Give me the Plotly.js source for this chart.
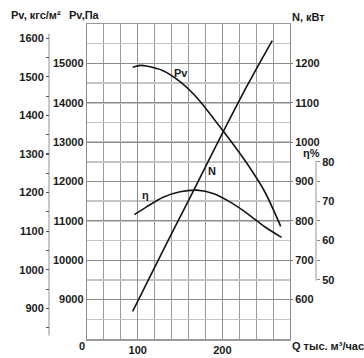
<!DOCTYPE html>
<html><head><meta charset="utf-8">
<script src="https://cdn.plot.ly/plotly-3.0.1.min.js"></script>
<style>html,body{margin:0;padding:0;background:#fff}#chart{width:364px;height:358px}</style>
</head><body><div id="chart"></div>
<script>
// Data
var qPv  = [94, 103, 110, 130, 150, 170, 190, 210, 230, 250, 269];
var pvPa = [14900, 14948, 14935, 14815, 14535, 14125, 13590, 13028, 12430, 11746, 10860];
var qN   = [94, 130, 166, 200, 230, 259];
var nKw  = [570, 725, 877, 1022, 1146, 1258];
var qEta = [96, 110, 130, 150, 170, 190, 210, 230, 250, 270];
var eta  = [66.6, 68.5, 71.0, 72.4, 72.8, 71.9, 69.7, 66.8, 63.5, 60.8];

var paTicks  = [9000, 10000, 11000, 12000, 13000, 14000, 15000];
var paLabels = ['9000', '10000', '11000', '12000', '13000', '14000', '15000'];
var kgfTicks = [900, 1000, 1100, 1200, 1300, 1400, 1500, 1600];
var kgfMinor = [850, 950, 1050, 1150, 1250, 1350, 1450, 1550];
var nTicks   = [600, 700, 800, 900, 1000, 1100, 1200];
var etaTicks = [50, 60, 70, 80];
var etaMinor = [55, 65, 75];
var qTicks   = [100, 200];

var KGF = 9.80665;
var F = {family: 'Liberation Sans, Arial, sans-serif', size: 11, color: '#1a1a1a', weight: 700};
var lineStyle = {color: '#151515', width: 1.6, shape: 'spline', smoothing: 0.8};

var traces = [
  {x: qPv, y: pvPa, xaxis: 'x', yaxis: 'y', mode: 'lines', line: lineStyle, hoverinfo: 'skip'},
  {x: qPv, y: pvPa.map(function(v){return v / KGF;}), xaxis: 'x', yaxis: 'y2', mode: 'lines',
   line: {color: 'rgba(0,0,0,0)', width: 0}, hoverinfo: 'skip'},
  {x: qN, y: nKw, xaxis: 'x', yaxis: 'y3', mode: 'lines', line: lineStyle, hoverinfo: 'skip'},
  {x: qEta, y: eta, xaxis: 'x', yaxis: 'y4', mode: 'lines', line: lineStyle, hoverinfo: 'skip'}
];

var L = 40, R = 40, W = 364, PW = W - L - R;
function px(x){ return (x - L) / PW; }
var T = 24, B = 19, PH = 358 - T - B;
function py(y){ return (358 - B - y) / PH; }

var layout = {
  width: 364, height: 358,
  margin: {l: L, r: R, t: T, b: B},
  paper_bgcolor: '#fff', plot_bgcolor: '#fff',
  showlegend: false,
  font: F,
  xaxis: {
    domain: [px(87), px(290)], range: [40, 280], autorange: false,
    tickmode: 'array', tickvals: qTicks, ticks: '', tickfont: F,
    showgrid: true, gridcolor: '#909090', gridwidth: 1,
    minor: {tickmode: 'linear', tick0: 0, dtick: 20, showgrid: true, gridcolor: '#9a9a9a', gridwidth: 1, ticks: ''},
    showline: true, linecolor: '#9a9a9a', linewidth: 1.5, mirror: true, zeroline: false
  },
  yaxis: {
    range: [8000, 16000], autorange: false,
    tickmode: 'array', tickvals: paTicks, ticktext: paLabels, ticks: '', tickfont: F,
    showgrid: true, gridcolor: '#8c8c8c', gridwidth: 1,
    minor: {tickmode: 'linear', tick0: 0, dtick: 500, showgrid: true, gridcolor: '#c4c4c4', gridwidth: 1.5, ticks: ''},
    showline: true, linecolor: '#8a8a8a', linewidth: 1.2, mirror: true, zeroline: false
  },
  yaxis2: {
    overlaying: 'y', anchor: 'free', position: px(49), side: 'left',
    range: [8000 / KGF + 5, 16000 / KGF + 5], autorange: false,
    tickmode: 'array', tickvals: kgfTicks, ticks: 'outside', ticklen: 3, tickcolor: '#555', tickwidth: 1.2,
    minor: {tickmode: 'array', tickvals: kgfMinor, ticks: 'outside', ticklen: 3, tickcolor: '#555', tickwidth: 1},
    tickfont: F, showgrid: false, showline: false, zeroline: false
  },
  yaxis3: {
    overlaying: 'y', anchor: 'x', side: 'right',
    range: [500, 1300], autorange: false,
    tickmode: 'array', tickvals: nTicks, ticks: 'outside', ticklen: 2, tickcolor: '#777', tickwidth: 1,
    tickfont: F, showgrid: false, showline: false, zeroline: false
  },
  yaxis4: {
    overlaying: 'y', anchor: 'free', position: px(316), side: 'right',
    range: [35, 115], autorange: false,
    tickmode: 'array', tickvals: etaTicks, ticks: 'outside', ticklen: 3, tickcolor: '#888', tickwidth: 1,
    minor: {tickmode: 'array', tickvals: etaMinor, ticks: 'outside', ticklen: 3, tickcolor: '#888', tickwidth: 1},
    tickfont: F, showgrid: false, showline: false, zeroline: false
  },
  shapes: [
    {type: 'line', xref: 'paper', x0: px(49), x1: px(49), yref: 'y2', y0: 830, y1: 1612,
     line: {color: '#c8c8c8', width: 2}, layer: 'below'},
    {type: 'line', xref: 'paper', x0: px(316), x1: px(316), yref: 'y4', y0: 49.8, y1: 80.3,
     line: {color: '#9a9a9a', width: 1}, layer: 'below'}
  ],
  annotations: [
    {text: 'Pv, кгс/м²', xref: 'paper', yref: 'paper', x: px(9), y: py(15), xanchor: 'left', yanchor: 'middle', showarrow: false, font: F},
    {text: 'Pv,Па', xref: 'paper', yref: 'paper', x: px(67), y: py(15), xanchor: 'left', yanchor: 'middle', showarrow: false, font: F},
    {text: 'N, кВт', xref: 'paper', yref: 'paper', x: px(290), y: py(17), xanchor: 'left', yanchor: 'middle', showarrow: false, font: F},
    {text: 'η%', xref: 'paper', yref: 'paper', x: px(311), y: py(153), xanchor: 'center', yanchor: 'middle', showarrow: false, font: F},
    {text: 'Q тыс. м³/час', xref: 'paper', yref: 'paper', x: px(290), y: py(346), xanchor: 'left', yanchor: 'middle', showarrow: false, font: F},
    {text: '0', xref: 'paper', yref: 'paper', x: px(82), y: py(346), xanchor: 'center', yanchor: 'middle', showarrow: false, font: F},
    {text: 'Pv', xref: 'x', yref: 'y', x: 151, y: 14760, xanchor: 'center', yanchor: 'middle', showarrow: false, font: F},
    {text: 'N', xref: 'x', yref: 'y3', x: 187.5, y: 927, xanchor: 'center', yanchor: 'middle', showarrow: false, font: F},
    {text: 'η', xref: 'x', yref: 'y4', x: 109, y: 71.6, xanchor: 'center', yanchor: 'middle', showarrow: false, font: F}
  ]
};

Plotly.newPlot('chart', traces, layout, {staticPlot: true, displayModeBar: false});
</script>
</body></html>
